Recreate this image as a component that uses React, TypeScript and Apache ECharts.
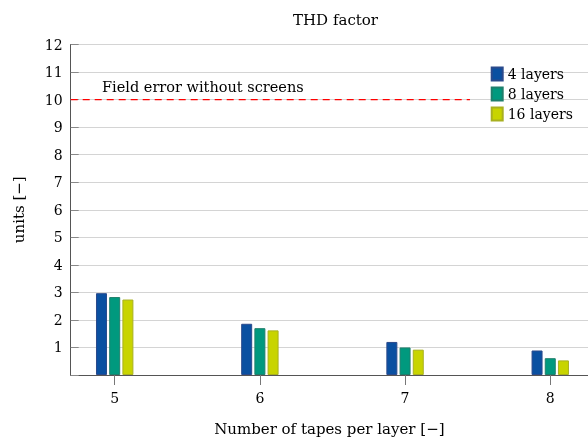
import React, { useEffect, useRef } from "react";
import * as echarts from "echarts";

const tapes = [5, 6, 7, 8];
const layers4 = [2.97, 1.86, 1.2, 0.89];
const layers8 = [2.83, 1.7, 1.0, 0.61];
const layers16 = [2.74, 1.62, 0.92, 0.53];
const seriesNames = ["4 layers", "8 layers", "16 layers"];
const fieldError = 10;
const fieldErrorSpan = [4.697, 7.447];
const fieldErrorLabel = "Field error without screens";

const FONT = "DejaVu Serif";

export default function App() {
  const ref = useRef<HTMLDivElement>(null);
  useEffect(() => {
    const chart = echarts.init(ref.current!, undefined, { renderer: "svg" });
    const colors = ["#0a50a1", "#00997e", "#c8d400"];
    const borders = ["#2b4a8c", "#1f7f6c", "#a8b020"];
    const all = [layers4, layers8, layers16];
    const series: any[] = all.map((vals, i) => ({
      type: "bar",
      name: seriesNames[i],
      data: tapes.map((t, j) => [t, vals[j]]),
      barWidth: 11,
      barGap: "20%",
      itemStyle: { color: colors[i], borderColor: borders[i], borderWidth: 1 },
    }));
    series.push({
      type: "line",
      name: "field error",
      data: fieldErrorSpan.map((x) => [x, fieldError]),
      showSymbol: false,
      symbol: "none",
      silent: true,
      lineStyle: { color: "#ff0000", type: [7, 5], width: 1.2 },
      itemStyle: { color: "#ff0000" },
      z: 1,
    });
    chart.setOption({
      animation: false,
      title: {
        text: "THD factor",
        left: 288,
        top: 7,
        textStyle: { fontFamily: FONT, fontSize: 15, fontWeight: "normal", color: "#000" },
      },
      legend: {
        orient: "vertical",
        left: 490.7,
        top: 66.5,
        padding: 0,
        itemWidth: 11,
        itemHeight: 13,
        itemGap: 5,
        icon: "rect",
        textStyle: { fontFamily: FONT, fontSize: 14, lineHeight: 13, color: "#000" },
        data: seriesNames,
      },
      grid: { left: 70.7, right: 0, top: 44.5, bottom: 62.3, containLabel: false },
      xAxis: {
        type: "value",
        min: 4.697,
        max: 8.26,
        name: "Number of tapes per layer [−]",
        nameLocation: "middle",
        nameGap: 46,
        nameTextStyle: { fontFamily: FONT, fontSize: 15, color: "#000" },
        axisLine: { show: true, lineStyle: { color: "#555", width: 1 } },
        axisTick: { show: true, length: 10, lineStyle: { color: "#777" }, customValues: tapes },
        axisLabel: {
          fontFamily: FONT,
          fontSize: 14,
          color: "#000",
          margin: 16,
          customValues: tapes,
        },
        splitLine: { show: false },
      },
      yAxis: {
        type: "value",
        min: 0,
        max: 12,
        interval: 1,
        name: "units [−]",
        nameLocation: "middle",
        nameGap: 44,
        nameRotate: 90,
        nameTextStyle: { fontFamily: FONT, fontSize: 15, color: "#000" },
        axisLine: { show: true, lineStyle: { color: "#555", width: 1 } },
        axisTick: { show: true, inside: true, length: 8, lineStyle: { color: "#888" } },
        axisLabel: {
          fontFamily: FONT,
          fontSize: 14,
          color: "#000",
          margin: 8,
          formatter: (v: number) => (v === 0 ? "" : String(v)),
        },
        splitLine: { show: true, lineStyle: { color: "#d4d4d4", width: 1 } },
      },
      graphic: [
        {
          type: "text",
          left: 102,
          top: 79,
          style: { text: fieldErrorLabel, fontFamily: FONT, fontSize: 14.5, fill: "#000" },
        },
      ],
      series,
    });
    return () => chart.dispose();
  }, []);
  return (
    <div
      ref={ref}
      style={{ position: "fixed", left: 0, top: 0, width: 588, height: 441 }}
    />
  );
}
